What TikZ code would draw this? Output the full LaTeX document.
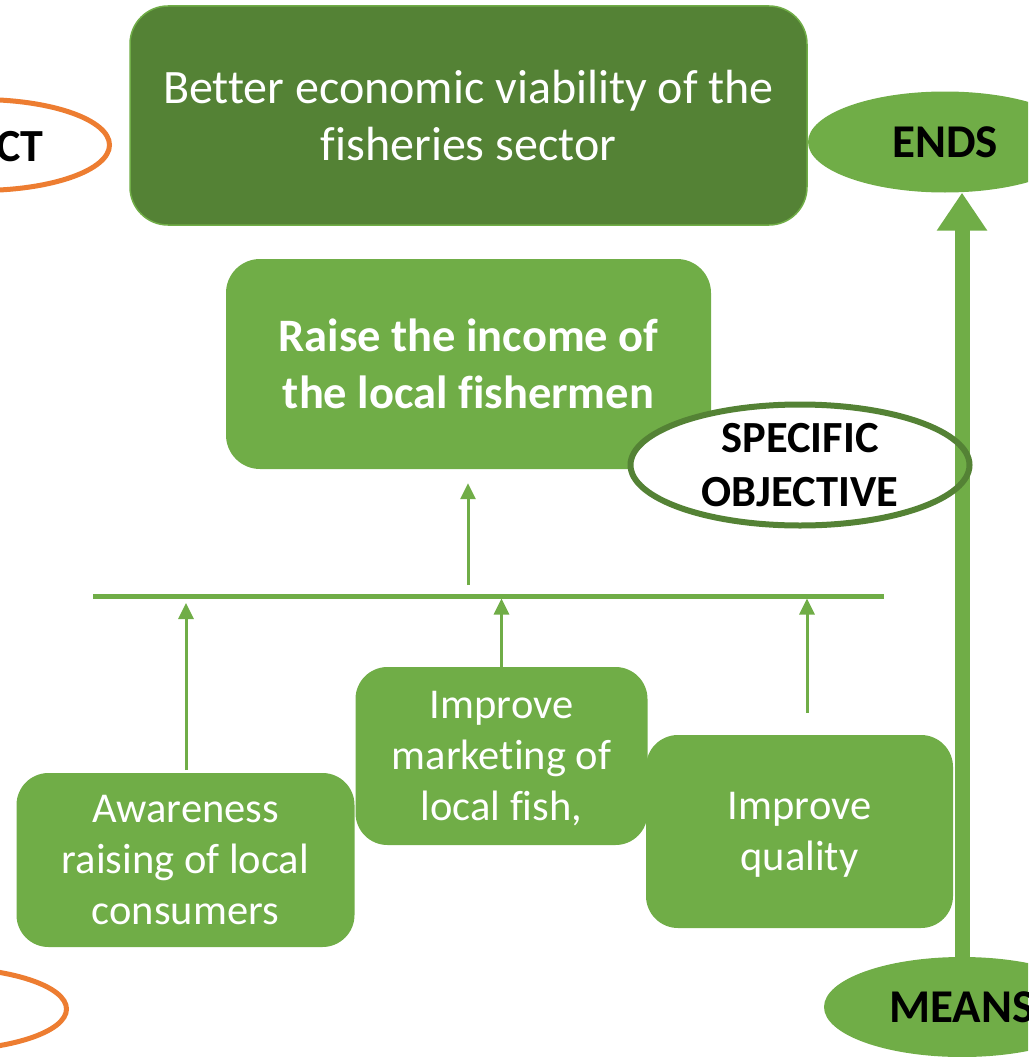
\documentclass[tikz,border=0pt]{standalone}
\usepackage{fontspec}
\setmainfont{Carlito}[Ligatures=NoCommon]
\usetikzlibrary{shapes.geometric,arrows.meta,calc}
\definecolor{dkgreen}{HTML}{548235}
\definecolor{ltgreen}{HTML}{70AD47}
\definecolor{orng}{HTML}{ED7D31}
\tikzset{
  box/.style={fill=ltgreen, draw=none, rounded corners=32pt, align=center,
    text=white, inner sep=0pt, text depth=0pt, font=\fontsize{42.5}{51}\selectfont},
  topbox/.style={fill=dkgreen, draw=ltgreen, line width=1.5pt, rounded corners=38pt,
    align=center, text=white, inner sep=0pt, font=\fontsize{48}{57}\selectfont},
  raisebox/.style={fill=ltgreen, draw=none, rounded corners=34pt, align=center,
    text=white, inner sep=0pt, font=\bfseries\fontsize{46.5}{57}\selectfont},
  orangeoval/.style={ellipse, draw=orng, line width=5pt, inner sep=0pt},
  greenoval/.style={ellipse, fill=ltgreen, draw=none, inner sep=0pt,
    font=\bfseries\fontsize{47}{54}\selectfont},
  lbl/.style={inner sep=0pt, font=\bfseries\fontsize{44.5}{54}\selectfont, align=center},
  arr/.style={ltgreen, line width=3pt, -{Triangle[width=15pt,length=16pt]}},
  barline/.style={ltgreen, line width=5pt},
  bigarr/.style={ltgreen, line width=15pt, -{Triangle[width=48pt,length=38pt]}},
}
\begin{document}
\begin{tikzpicture}[x=1pt,y=-1pt]
\useasboundingbox (0,0) rectangle (1028,1057);
\clip (0,0) rectangle (1028,1057);

% side ovals
\node[orangeoval, minimum width=259pt, minimum height=91pt] (impact) at (-20,145) {};
\node[lbl, anchor=east, font=\bfseries\fontsize{46}{54}\selectfont] (impacttxt) at (44,147) {CT};
\node[orangeoval, minimum width=253pt, minimum height=83pt] (output) at (-60,1009) {};

% main boxes
\node[topbox, minimum width=677pt, minimum height=219pt] (goal) at (468.5,115.5)
  {Better economic viability of the\\fisheries sector};
\node[raisebox, minimum width=485pt, minimum height=210pt] (raise) at (468.5,364)
  {Raise the income of\\the local fishermen};

\node[box, minimum width=338pt, minimum height=174pt] (aware) at (185.5,860)
  {Awareness\\raising of local\\consumers};
\node[box, minimum width=292pt, minimum height=178pt] (market) at (501.5,756)
  {Improve\\marketing of\\local fish,};
\node[box, minimum width=307pt, minimum height=193pt] (quality) at (799.5,831.5)
  {Improve\\quality};

% ends / means
\node[greenoval, minimum width=274pt, minimum height=101pt] (ends) at (945,142) {ENDS};
\node[greenoval, minimum width=276pt, minimum height=100pt] (means) at (962,1007) {MEANS};

% specific objective oval (fill, then arrow, then border)
\node[ellipse, fill=white, inner sep=0pt, minimum width=339pt, minimum height=121pt]
  (spec) at (800,465) {};

\draw[bigarr] (means.north) -- (means.north |- ends.south);

\node[ellipse, draw=dkgreen, line width=6pt, inner sep=0pt, minimum width=339pt,
  minimum height=121pt, lbl] (specb) at (800,465) {SPECIFIC\\OBJECTIVE};

% bar and small arrows
\coordinate (barL) at (93,596);
\coordinate (barR) at (884,596);
\draw[barline] (barL) -- (barR);

\coordinate (r0) at (468,585);
\draw[arr, shorten >=14pt] (r0) -- (r0 |- raise.south);

\coordinate (a0) at (186,770);
\draw[arr, shorten >=7pt] (a0) -- (a0 |- barL);

\draw[arr, shorten >=2.5pt] (market.north) -- (market.north |- barL);

\coordinate (q0) at (807,713);
\draw[arr, shorten >=2.5pt] (q0) -- (q0 |- barL);
\end{tikzpicture}
\end{document}
